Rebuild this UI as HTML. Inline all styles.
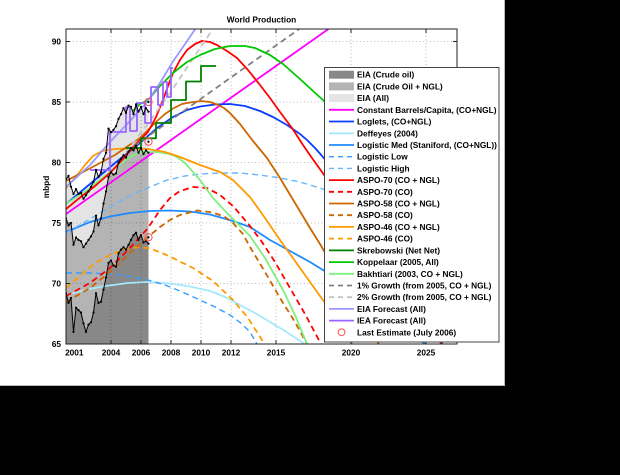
<!DOCTYPE html>
<html><head><meta charset="utf-8"><style>
html,body{margin:0;padding:0;background:#000;}
svg{display:block;}
text{font-family:"Liberation Sans",Arial,sans-serif;font-weight:bold;font-size:8.3px;fill:#000;}
</style></head><body>
<svg width="620" height="475" viewBox="0 0 620 475" xmlns="http://www.w3.org/2000/svg">
<defs>
<clipPath id="pc"><rect x="66" y="29" width="391" height="315"/></clipPath>
<marker id="dot" markerWidth="3" markerHeight="3" refX="1.5" refY="1.5" markerUnits="userSpaceOnUse"><circle cx="1.5" cy="1.5" r="1.1" fill="#000"/></marker>
</defs>
<rect x="0" y="0" width="620" height="475" fill="#000"/>
<rect x="0" y="0" width="505" height="386" fill="#fff"/>
<line x1="504.5" y1="0" x2="504.5" y2="386" stroke="#bbb"/>
<line x1="0" y1="385.5" x2="505" y2="385.5" stroke="#bbb"/>

<text x="261.5" y="22.5" text-anchor="middle">World Production</text>

<g clip-path="url(#pc)">
<!-- fills -->
<polygon fill="#e4e4e4" points="66,344 66,179.4 68.5,175.8 71,186.7 73.5,194.0 76,189.1 78.5,194.0 81,192.8 83.5,198.8 86,195.2 88.5,191.5 91,186.7 93.5,181.9 96,169.8 98.5,177.0 101,172.2 103.5,158.9 106,152.8 108.5,128.6 111,132.3 113.5,129.8 116,126.2 118.5,118.9 121,114.1 123.5,108.1 126,112.9 128.5,105.6 131,106.8 133.5,114.1 136,104.4 138.5,111.6 141,106.8 143.5,114.1 146,108.1 148.5,111.6 148.5,344"/>
<polygon fill="#b4b4b4" points="66,344 66,218.2 68.5,225.4 71,223.0 73.5,244.8 76,237.5 78.5,239.9 81,241.2 83.5,247.2 86,243.6 88.5,239.9 91,236.3 93.5,231.5 96,215.7 98.5,225.4 101,218.2 103.5,203.6 106,191.5 108.5,177.0 111,172.2 113.5,174.6 116,173.4 118.5,162.5 121,158.9 123.5,155.2 126,157.7 128.5,151.6 131,148.0 133.5,150.4 136,145.6 138.5,152.8 141,148.0 143.5,154.0 146,150.4 148.5,152.8 148.5,344"/>
<polygon fill="#888888" points="66,344 66,293.2 68.5,302.9 71,298.0 73.5,331.9 76,307.7 78.5,310.1 81,312.5 83.5,323.4 86,331.9 88.5,324.6 91,322.2 93.5,312.5 96,293.2 98.5,302.9 101,301.6 103.5,289.6 106,277.5 108.5,262.9 111,260.5 113.5,265.4 116,266.6 118.5,253.3 121,249.6 123.5,247.2 126,249.6 128.5,244.8 131,239.9 133.5,235.1 136,232.7 138.5,239.9 141,235.1 143.5,242.4 146,241.2 148.5,243.6 148.5,344"/>

<!-- grid -->
<g stroke="#000" stroke-opacity="0.35" stroke-width="0.8" stroke-dasharray="1,2.5">
<line x1="111" y1="29" x2="111" y2="344"/>
<line x1="141" y1="29" x2="141" y2="344"/>
<line x1="171" y1="29" x2="171" y2="344"/>
<line x1="201" y1="29" x2="201" y2="344"/>
<line x1="231" y1="29" x2="231" y2="344"/>
<line x1="276" y1="29" x2="276" y2="344"/>
<line x1="351" y1="29" x2="351" y2="344"/>
<line x1="426" y1="29" x2="426" y2="344"/>
<line x1="66" y1="283.5" x2="457" y2="283.5"/>
<line x1="66" y1="223" x2="457" y2="223"/>
<line x1="66" y1="162.5" x2="457" y2="162.5"/>
<line x1="66" y1="102" x2="457" y2="102"/>
<line x1="66" y1="41.5" x2="457" y2="41.5"/>
</g>

<g fill="none" stroke-width="1.8" stroke-linejoin="round">
<!-- Constant barrels/capita -->
<line x1="66" y1="214" x2="330" y2="27.9" stroke="#ff00ff"/>
<!-- Loglets -->
<polyline stroke="#0a3cff" points="66,204 90,184 115,163 140,143 157,128 173,117 187,110 200,106.5 215,104.5 230,104 245,106 260,111 273,117 287,125 300,134 307,140 315,148 323,157 340,178 360,205 380,235 400,265 420,298 441,341 445,350"/>
<!-- Deffeyes -->
<polyline stroke="#a6e8fc" points="66,295 85,290 105,286 128,283 148,282 170,283.5 190,286.5 210,291 225,297 240,305 255,313 270,322 285,331 303,343 306,346"/>
<!-- Logistic Med -->
<polyline stroke="#1e8cff" points="66,232 90,222 110,216.5 130,213 150,211 170,210.5 190,211.5 210,214.5 233,221 250,227 270,240 290,251 310,262 323,270 345,285 370,303 400,325 425,344"/>
<!-- Logistic Low -->
<polyline stroke="#3a9bff" stroke-width="1.4" stroke-dasharray="6,4" points="66,273 90,273 110,274 130,276.5 148,280 165,285 180,291 200,300 215,307 230,315 242,324 250,332 257,344 258,347"/>
<!-- Logistic High -->
<polyline stroke="#6ab4ff" stroke-width="1.4" stroke-dasharray="6,4" points="66,233 90,219 110,207 133,194 150,187 167,180 185,176 200,174 220,173 240,173 260,175 280,178 300,182 320,188 340,196"/>
<!-- ASPO-46 CO -->
<polyline stroke="#ff9900" stroke-dasharray="6,4" points="66,288 80,276 95,263 110,255 125,249 140,247 150,248.5 162,253 175,259 193,268 213,281 233,300 248,318 262,340 264,346"/>
<!-- ASPO-58 CO -->
<polyline stroke="#cc6600" stroke-dasharray="6,4" points="66,302 90,288 110,272 130,253 148,237 160,227 170,220 180,215 197,210.5 213,212.5 225,217 233,223 243,234 250,247 265,272 280,298 295,322 308,346"/>
<!-- ASPO-70 CO -->
<polyline stroke="#ff0000" stroke-dasharray="6,4" points="66,296 90,283 110,268 130,248 148,228 160,210 170,198 180,191 193,187 207,188 220,195 233,206 250,226 262,242 275,262 290,288 305,314 321,344 323,348"/>
<!-- Bakhtiari -->
<polyline stroke="#80f080" points="66,204 90,188 110,172 128,158 140,152 157,152 170,154 177,157 185,163 193,172 200,180 213,198 227,213 250,236 265,258 283,290 295,315 307,344 308,348"/>
<!-- ASPO-46 -->
<polyline stroke="#ff9900" points="66,188 75,178 85,165 93,156 102,151 115,149 130,148.5 148,149 165,152 180,157 200,165 220,172 233,180 250,197 265,218 280,240 300,268 320,296 340,324 352,344 354,348"/>
<!-- ASPO-58 -->
<polyline stroke="#cc6600" points="66,181 85,171 100,163 115,155 128,146 140,138 150,128 157,121 165,114 173,108.5 182,104 190,102.5 201,101 210,102 217,104.5 224,108 230,113 240,124 253,141 267,158 280,178 295,203 310,228 320,244 335,270 350,296 365,322 380,346"/>
<!-- ASPO-70 -->
<polyline stroke="#ff0000" points="66,209 77,200 95,186 110,173 122,160 133,147 148,132 156,117 163,100 168,86 173,73 180,60 187,50 195,44 202,41 210,42 217,45 227,51 237,58 248,70 260,85 270,98 280,112 292,128 303,145 312,158 322,172 340,198 360,228 380,258 400,287 420,315 443,346"/>
<!-- 1% growth -->
<line x1="126" y1="152" x2="302" y2="27" stroke="#808080" stroke-dasharray="6,4"/>
<!-- 2% growth -->
<polyline stroke="#c4c4c4" stroke-dasharray="6,4" points="126,152 147,125 170,93 190,63 213,29 214,27"/>
<!-- Koppelaar -->
<polyline stroke="#00c800" points="133,111 140,104 148,100 160,86 173,73 187,62 200,55 215,49 230,46 245,46 255,48 270,55 283,64 300,79 313,91 323,100 340,118 360,145 380,180 400,215"/>
<!-- Skrebowski -->
<path stroke="#008000" d="M126,148 H141 V138.3 H156 V123 H171 V100 H186 V81.5 H201 V66 H216"/>
<!-- EIA forecast -->
<polyline stroke="#9999ff" points="66,187 90,165 110,142 130,121 147,102 160,83 172,63 185,44 196,28 197,26"/>
<!-- IEA forecast -->
<path stroke="#9966ff" d="M90,170 H110 V132 H126 V107 H130 V131 H137 V103 H145 V123 H151 V87 H158 V105 H163 V82 H167 V97 H171 V68 H173"/>
</g>

<!-- data -->
<g fill="none" stroke="#000" stroke-width="1" stroke-linejoin="round" marker-start="url(#dot)" marker-mid="url(#dot)" marker-end="url(#dot)">
<polyline points="66,179.4 68.5,175.8 71,186.7 73.5,194.0 76,189.1 78.5,194.0 81,192.8 83.5,198.8 86,195.2 88.5,191.5 91,186.7 93.5,181.9 96,169.8 98.5,177.0 101,172.2 103.5,158.9 106,152.8 108.5,128.6 111,132.3 113.5,129.8 116,126.2 118.5,118.9 121,114.1 123.5,108.1 126,112.9 128.5,105.6 131,106.8 133.5,114.1 136,104.4 138.5,111.6 141,106.8 143.5,114.1 146,108.1 148.5,111.6"/>
<polyline points="66,218.2 68.5,225.4 71,223.0 73.5,244.8 76,237.5 78.5,239.9 81,241.2 83.5,247.2 86,243.6 88.5,239.9 91,236.3 93.5,231.5 96,215.7 98.5,225.4 101,218.2 103.5,203.6 106,191.5 108.5,177.0 111,172.2 113.5,174.6 116,173.4 118.5,162.5 121,158.9 123.5,155.2 126,157.7 128.5,151.6 131,148.0 133.5,150.4 136,145.6 138.5,152.8 141,148.0 143.5,154.0 146,150.4 148.5,152.8"/>
<polyline points="66,293.2 68.5,302.9 71,298.0 73.5,331.9 76,307.7 78.5,310.1 81,312.5 83.5,323.4 86,331.9 88.5,324.6 91,322.2 93.5,312.5 96,293.2 98.5,302.9 101,301.6 103.5,289.6 106,277.5 108.5,262.9 111,260.5 113.5,265.4 116,266.6 118.5,253.3 121,249.6 123.5,247.2 126,249.6 128.5,244.8 131,239.9 133.5,235.1 136,232.7 138.5,239.9 141,235.1 143.5,242.4 146,241.2 148.5,243.6"/>
</g>
<g fill="none" stroke="#ff4d4d" stroke-width="1">
<circle cx="148.5" cy="102" r="3.6"/>
<circle cx="148.5" cy="141.7" r="3.6"/>
<circle cx="148.5" cy="237.3" r="3.6"/>
</g>
<g fill="#000">
<circle cx="148.5" cy="102" r="1.1"/>
<circle cx="148.5" cy="141.7" r="1.1"/>
<circle cx="148.5" cy="237.3" r="1.1"/>
</g>
</g>

<!-- axes box and ticks -->
<rect x="66" y="29" width="391" height="315" fill="none" stroke="#222" stroke-width="1"/>
<g stroke="#222" stroke-width="1">
<path d="M111,344v-4M141,344v-4M171,344v-4M201,344v-4M231,344v-4M276,344v-4M351,344v-4M426,344v-4
M111,29v4M141,29v4M171,29v4M201,29v4M231,29v4M276,29v4M351,29v4M426,29v4
M66,283.5h4M66,223h4M66,162.5h4M66,102h4M66,41.5h4
M457,283.5h-4M457,223h-4M457,162.5h-4M457,102h-4M457,41.5h-4"/>
</g>

<!-- y labels -->
<g text-anchor="end">
<text x="61" y="347">65</text>
<text x="61" y="286.5">70</text>
<text x="61" y="226">75</text>
<text x="61" y="165.5">80</text>
<text x="61" y="105">85</text>
<text x="61" y="44.5">90</text>
</g>
<!-- x labels -->
<g text-anchor="middle">
<text x="74.3" y="355.5">2001</text>
<text x="111" y="355.5">2004</text>
<text x="141" y="355.5">2006</text>
<text x="171" y="355.5">2008</text>
<text x="201" y="355.5">2010</text>
<text x="231" y="355.5">2012</text>
<text x="276" y="355.5">2015</text>
<text x="351" y="355.5">2020</text>
<text x="426" y="355.5">2025</text>
</g>
<text x="0" y="0" text-anchor="middle" transform="translate(49,187) rotate(-90)">mbpd</text>

<!-- legend -->
<rect x="324.5" y="67.5" width="174.5" height="274.5" fill="#fff" stroke="#444" stroke-width="1"/>
<rect x="329" y="70.7" width="25" height="8" fill="#888888"/>
<rect x="329" y="82.4" width="25" height="8" fill="#b4b4b4"/>
<rect x="329" y="94.1" width="25" height="8" fill="#e4e4e4"/>
<g stroke-width="1.8" fill="none">
<line x1="329" y1="109.8" x2="354" y2="109.8" stroke="#ff00ff"/>
<line x1="329" y1="121.5" x2="354" y2="121.5" stroke="#0a3cff"/>
<line x1="329" y1="133.3" x2="354" y2="133.3" stroke="#a6e8fc"/>
<line x1="329" y1="145" x2="354" y2="145" stroke="#1e8cff"/>
<line x1="329" y1="156.7" x2="354" y2="156.7" stroke="#3a9bff" stroke-dasharray="5,4" stroke-width="1.4"/>
<line x1="329" y1="168.4" x2="354" y2="168.4" stroke="#6ab4ff" stroke-dasharray="5,4" stroke-width="1.4"/>
<line x1="329" y1="180.1" x2="354" y2="180.1" stroke="#ff0000"/>
<line x1="329" y1="191.8" x2="354" y2="191.8" stroke="#ff0000" stroke-dasharray="5,4"/>
<line x1="329" y1="203.5" x2="354" y2="203.5" stroke="#cc6600"/>
<line x1="329" y1="215.2" x2="354" y2="215.2" stroke="#cc6600" stroke-dasharray="5,4"/>
<line x1="329" y1="226.9" x2="354" y2="226.9" stroke="#ff9900"/>
<line x1="329" y1="238.6" x2="354" y2="238.6" stroke="#ff9900" stroke-dasharray="5,4"/>
<line x1="329" y1="250.4" x2="354" y2="250.4" stroke="#008000"/>
<line x1="329" y1="262.1" x2="354" y2="262.1" stroke="#00c800"/>
<line x1="329" y1="273.8" x2="354" y2="273.8" stroke="#80f080"/>
<line x1="329" y1="285.5" x2="354" y2="285.5" stroke="#808080" stroke-dasharray="5,4"/>
<line x1="329" y1="297.2" x2="354" y2="297.2" stroke="#c4c4c4" stroke-dasharray="5,4"/>
<line x1="329" y1="308.9" x2="354" y2="308.9" stroke="#9999ff"/>
<line x1="329" y1="320.6" x2="354" y2="320.6" stroke="#9966ff"/>
</g>
<circle cx="341.5" cy="332.3" r="3.4" fill="none" stroke="#ff4d4d" stroke-width="1"/>
<g>
<text x="357" y="77.7">EIA (Crude oil)</text>
<text x="357" y="89.4">EIA (Crude Oil + NGL)</text>
<text x="357" y="101.1">EIA (All)</text>
<text x="357" y="112.8">Constant Barrels/Capita, (CO+NGL)</text>
<text x="357" y="124.5">Loglets, (CO+NGL)</text>
<text x="357" y="136.3">Deffeyes (2004)</text>
<text x="357" y="148">Logistic Med (Staniford, (CO+NGL))</text>
<text x="357" y="159.7">Logistic Low</text>
<text x="357" y="171.4">Logistic High</text>
<text x="357" y="183.1">ASPO-70 (CO + NGL)</text>
<text x="357" y="194.8">ASPO-70 (CO)</text>
<text x="357" y="206.5">ASPO-58 (CO + NGL)</text>
<text x="357" y="218.2">ASPO-58 (CO)</text>
<text x="357" y="229.9">ASPO-46 (CO + NGL)</text>
<text x="357" y="241.6">ASPO-46 (CO)</text>
<text x="357" y="253.4">Skrebowski (Net Net)</text>
<text x="357" y="265.1">Koppelaar (2005, All)</text>
<text x="357" y="276.8">Bakhtiari (2003, CO + NGL)</text>
<text x="357" y="288.5">1% Growth (from 2005, CO + NGL)</text>
<text x="357" y="300.2">2% Growth (from 2005, CO + NGL)</text>
<text x="357" y="311.9">EIA Forecast (All)</text>
<text x="357" y="323.6">IEA Forecast (All)</text>
<text x="357" y="335.3">Last Estimate (July 2006)</text>
</g>
</svg>
</body></html>
